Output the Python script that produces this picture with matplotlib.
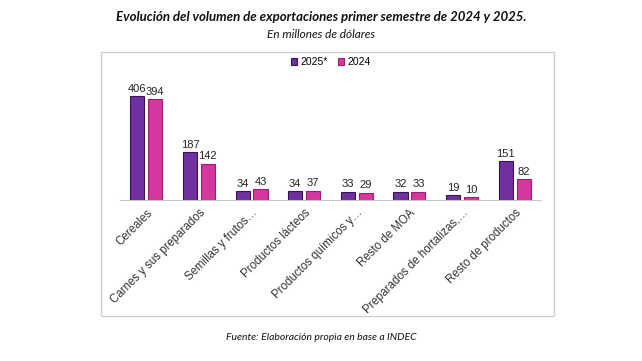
import numpy as np
import matplotlib.pyplot as plt
from matplotlib.patches import Rectangle

categorias = ['Cereales', 'Carnes y sus preparados', 'Semillas y frutos…',
              'Productos lácteos', 'Productos químicos y…', 'Resto de MOA',
              'Preparados de hortalizas,…', 'Resto de productos']
valores_2025 = [406, 187, 34, 34, 33, 32, 19, 151]
valores_2024 = [394, 142, 43, 37, 29, 33, 10, 82]

color_2025 = '#7030A0'
color_2024 = '#D4379E'

fig = plt.figure(figsize=(6.42, 3.61), dpi=100)

# marco del grafico
fig.patches.append(Rectangle((101 / 642, 1 - 316 / 361), 453 / 642, 264 / 361,
                             transform=fig.transFigure, fill=False,
                             edgecolor='#d0d0d0', linewidth=1.0))

ax = fig.add_axes([120 / 642, 1 - 200 / 361, 421 / 642, 120 / 361])
x = np.arange(len(categorias))
ancho = 0.27
b1 = ax.bar(x - 0.17, valores_2025, ancho, color=color_2025,
            edgecolor='#3a1356', linewidth=0.8, label='2025*')
b2 = ax.bar(x + 0.17, valores_2024, ancho, color=color_2024,
            edgecolor='#a01c72', linewidth=0.8, label='2024')
for rects, vals in ((b1, valores_2025), (b2, valores_2024)):
    for r, v in zip(rects, vals):
        ax.text(r.get_x() + r.get_width() / 2, r.get_height() + 9, str(v),
                ha='center', va='bottom', fontsize=8,
                family='Liberation Sans', color='#222222')

ax.set_xlim(-0.5, len(categorias) - 0.5)
ax.set_ylim(0, 468)
ax.set_yticks([])
ax.set_xticks(x)
ax.set_xticklabels(categorias, rotation=45, ha='right', va='top',
                   rotation_mode='anchor', fontsize=8.3,
                   family='Liberation Sans', color='#333333')
ax.tick_params(axis='x', length=0, pad=5)
for s in ('top', 'right', 'left'):
    ax.spines[s].set_visible(False)
ax.spines['bottom'].set_color('#c8c8c8')
ax.patch.set_alpha(0)

fig.legend(handles=[b1, b2], loc='center', bbox_to_anchor=(0.515, 1 - 62 / 361),
           ncol=2, frameon=False, handlelength=0.6, handleheight=0.6,
           handletextpad=0.3, columnspacing=1.0,
           prop={'family': 'Liberation Sans', 'size': 7.5})

fig.text(0.5, 1 - 17 / 361,
         'Evolución del volumen de exportaciones primer semestre de 2024 y 2025.',
         ha='center', va='center', fontsize=9.5, fontweight='bold',
         style='italic', family='Lato', color='#111111')
fig.text(0.5, 1 - 34 / 361, 'En millones de dólares', ha='center', va='center',
         fontsize=8.5, style='italic', family='Lato', color='#111111')
fig.text(0.5, 1 - 337 / 361, 'Fuente: Elaboración propia en base a INDEC',
         ha='center', va='center', fontsize=7.5, style='italic', family='Lato',
         color='#111111')

fig.savefig('out.png', dpi=100, facecolor='white')
